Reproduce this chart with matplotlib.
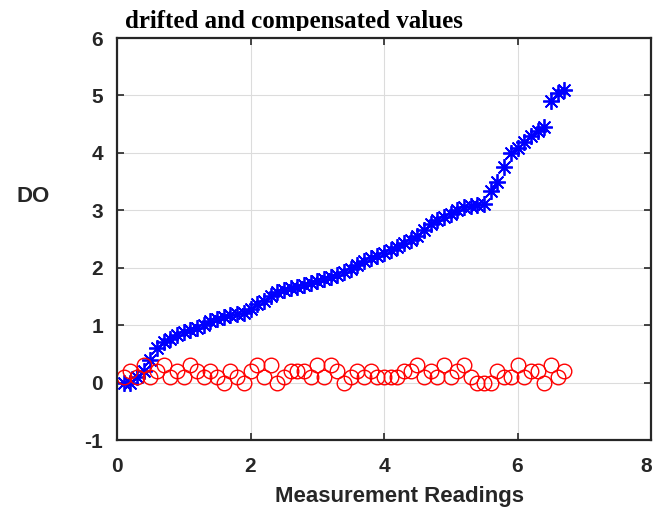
import numpy as np
import matplotlib
matplotlib.use("Agg")
import matplotlib.pyplot as plt
from matplotlib.transforms import Bbox, TransformedBbox, ScaledTranslation

# Readings index scaled to 0.1 steps
readings = np.arange(1, 68) * 0.1

drifted = [0.0, 0.0, 0.1, 0.2, 0.4, 0.6, 0.7, 0.76, 0.82, 0.88,
           0.91, 0.95, 1.0, 1.08, 1.11, 1.14, 1.17, 1.19, 1.22, 1.28,
           1.37, 1.42, 1.5, 1.57, 1.61, 1.64, 1.67, 1.7, 1.74, 1.77,
           1.8, 1.83, 1.87, 1.92, 1.97, 2.05, 2.12, 2.17, 2.2, 2.26,
           2.31, 2.36, 2.43, 2.49, 2.56, 2.65, 2.76, 2.83, 2.88, 2.93,
           3.0, 3.05, 3.08, 3.1, 3.11, 3.33, 3.5, 3.76, 3.99, 4.08,
           4.19, 4.3, 4.38, 4.45, 4.9, 5.04, 5.1]

compensated = [0.1, 0.2, 0.1, 0.3, 0.1, 0.2, 0.3, 0.1, 0.2, 0.1,
               0.3, 0.2, 0.1, 0.2, 0.1, 0.0, 0.2, 0.1, 0.0, 0.2,
               0.3, 0.1, 0.3, 0.0, 0.1, 0.2, 0.2, 0.2, 0.1, 0.3,
               0.1, 0.3, 0.2, 0.0, 0.1, 0.2, 0.1, 0.2, 0.1, 0.1,
               0.1, 0.1, 0.2, 0.2, 0.3, 0.1, 0.2, 0.1, 0.3, 0.1,
               0.2, 0.3, 0.1, 0.0, 0.0, 0.0, 0.2, 0.1, 0.1, 0.3,
               0.1, 0.2, 0.2, 0.0, 0.3, 0.1, 0.2]

x_ticks = [0, 2, 4, 6, 8]
y_ticks = [-1, 0, 1, 2, 3, 4, 5, 6]

W, H = 654, 514
fig = plt.figure(figsize=(W / 100, H / 100), dpi=100)
ax = fig.add_axes([117 / W, 1 - 440 / H, 534 / W, 402 / H])

ax.plot(readings, drifted, linestyle="none", marker=(8, 2, 0),
        markersize=12, markeredgewidth=1.3, color=(0, 0, 1))
ax.plot(readings, compensated, linestyle="none", marker="o",
        markersize=10.5, markeredgewidth=1.0, markerfacecolor="none",
        markeredgecolor=(1, 0, 0))

ax.set_xlim(0, 8)
ax.set_ylim(-1, 6)
ax.set_xticks(x_ticks)
ax.set_yticks(y_ticks)
ax.set_xticklabels([str(v) for v in x_ticks], fontfamily="Liberation Sans",
                   fontweight="bold", fontsize=15, color="#262626")
ax.set_yticklabels([str(v) for v in y_ticks], fontfamily="Liberation Sans",
                   fontweight="bold", fontsize=15, color="#262626")
ax.tick_params(direction="in", length=5, width=1.2, color="#262626",
               top=True, right=True)
ax.tick_params(axis="x", pad=12)
ax.tick_params(axis="y", pad=10)

# keep the last x tick label inside the canvas
last = ax.get_xticklabels()[-1]
last.set_transform(last.get_transform() +
                   ScaledTranslation(-5 / 100, 0, fig.dpi_scale_trans))

ax.grid(True, color="#dcdcdc", linewidth=0.8)
ax.set_axisbelow(True)
for sp in ax.spines.values():
    sp.set_linewidth(1.6)
    sp.set_color("#262626")

ax.set_xlabel("Measurement Readings", fontfamily="Liberation Sans",
              fontweight="bold", fontsize=16, color="#262626")
ax.xaxis.set_label_coords(0.529, -0.115)
ax.set_ylabel("DO", fontfamily="Liberation Sans", fontweight="bold",
              fontsize=16, rotation=0, color="#262626")
ax.yaxis.set_label_coords(-0.157, 0.58)

title = fig.text(125 / W, 1 - 28 / H, "drifted and compensated values",
                 fontfamily="Liberation Serif", fontweight="bold",
                 fontsize=18, ha="left", va="baseline")
# the title's lower edge is trimmed just above the plot frame
title.set_clip_box(TransformedBbox(Bbox([[0, 1 - 31 / H], [1, 1]]),
                                   fig.transFigure))
title.set_clip_on(True)

fig.savefig("out.png", dpi=100)
